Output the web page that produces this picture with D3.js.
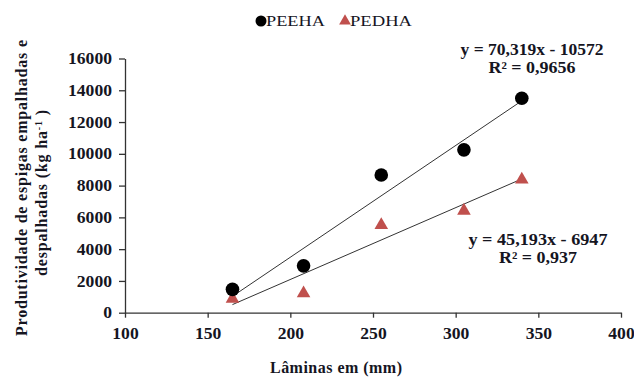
<!DOCTYPE html>
<html>
<head>
<meta charset="utf-8">
<script src="https://cdn.jsdelivr.net/npm/d3@7"></script>
<style>
  body { margin: 0; background: #fff; }
  svg text { font-family: "Liberation Serif", "Times New Roman", serif !important; font-weight: normal; fill: #15151f; }
  svg text.b { font-weight: bold; }
</style>
</head>
<body>
<script>
// data
var laminas = [165, 208, 255, 305, 340];
var peeha = [1470, 2950, 8670, 10250, 13500];
var pedha = [880, 1220, 5520, 6420, 8380];
var xTicks = [100, 150, 200, 250, 300, 350, 400];
var yTicks = [0, 2000, 4000, 6000, 8000, 10000, 12000, 14000, 16000];
// fitted lines shown on the chart
var fitPeeha = { a: 70.319, b: -10572, eq: "y = 70,319x - 10572", r2: "R² = 0,9656" };
var fitPedha = { a: 45.193, b: -6947, eq: "y = 45,193x - 6947", r2: "R² = 0,937" };

var width = 634, height = 378;
var margin = { left: 125, right: 13, top: 58.5, bottom: 65.3 };

var svg = d3.select("body").append("svg")
  .attr("width", width)
  .attr("height", height);

var x = d3.scaleLinear().domain([100, 400]).range([margin.left, width - margin.right]);
var y = d3.scaleLinear().domain([0, 16000]).range([height - margin.bottom, margin.top]);

// axes
var xAxis = svg.append("g")
  .attr("transform", "translate(0," + y(0) + ")")
  .call(d3.axisBottom(x).tickValues(xTicks).tickFormat(d3.format("d"))
    .tickSize(5).tickSizeOuter(0).tickPadding(10));
var yAxis = svg.append("g")
  .attr("transform", "translate(" + x(100) + ",0)")
  .call(d3.axisLeft(y).tickValues(yTicks).tickFormat(d3.format("d"))
    .tickSize(6).tickSizeOuter(0).tickPadding(7));

[xAxis, yAxis].forEach(function(a) {
  a.selectAll("path, line").attr("stroke", "#333").attr("stroke-width", 1.3);
  a.selectAll("text").attr("class", "b").style("font-size", "16px");
});
// tick labels in the picture are a little wider than the font
yAxis.selectAll("text").attr("textLength", function(d) { return String(d).length * 8.8; })
  .attr("lengthAdjust", "spacingAndGlyphs");
xAxis.selectAll("text").attr("textLength", function(d) { return String(d).length * 8.8; })
  .attr("lengthAdjust", "spacingAndGlyphs");

// trend lines
var xs = d3.extent(laminas);
[fitPeeha, fitPedha].forEach(function(f) {
  svg.append("line")
    .attr("x1", x(xs[0]))
    .attr("y1", y(f.a * xs[0] + f.b))
    .attr("x2", x(xs[1]))
    .attr("y2", y(f.a * xs[1] + f.b))
    .attr("stroke", "#333")
    .attr("stroke-width", 1);
});

// points
svg.selectAll(".tri")
  .data(laminas)
  .enter().append("path")
  .attr("class", "tri")
  .attr("d", d3.symbol().type(d3.symbolTriangle).size(80))
  .attr("transform", function(d, i) { return "translate(" + x(d) + "," + y(pedha[i]) + ")"; })
  .attr("fill", "#c0504d");

svg.selectAll(".dot")
  .data(laminas)
  .enter().append("circle")
  .attr("class", "dot")
  .attr("cx", function(d) { return x(d); })
  .attr("cy", function(d, i) { return y(peeha[i]); })
  .attr("r", 6.8)
  .attr("fill", "#000");

// equations
function eqText(f, cx, cy, w1, w2) {
  svg.append("text").attr("class", "b").attr("x", cx).attr("y", cy)
    .attr("text-anchor", "middle").style("font-size", "16px")
    .attr("textLength", w1).attr("lengthAdjust", "spacingAndGlyphs")
    .text(f.eq);
  svg.append("text").attr("class", "b").attr("x", cx).attr("y", cy + 18)
    .attr("text-anchor", "middle").style("font-size", "16px")
    .attr("textLength", w2).attr("lengthAdjust", "spacingAndGlyphs")
    .text(f.r2);
}
eqText(fitPeeha, 532, 55, 143, 87);
eqText(fitPedha, 538, 245, 139, 78);

// legend
var leg = svg.append("g").attr("transform", "translate(261,21)");
leg.append("circle").attr("cx", 0).attr("cy", 0).attr("r", 5.5).attr("fill", "#000");
leg.append("text").attr("x", 5).attr("y", 5).style("font-size", "15px")
  .attr("textLength", 59).attr("lengthAdjust", "spacingAndGlyphs").text("PEEHA");
leg.append("path")
  .attr("d", d3.symbol().type(d3.symbolTriangle).size(60))
  .attr("transform", "translate(84,0)")
  .attr("fill", "#c0504d");
leg.append("text").attr("x", 89).attr("y", 5).style("font-size", "15px")
  .attr("textLength", 62).attr("lengthAdjust", "spacingAndGlyphs").text("PEDHA");

// axis titles
svg.append("text").attr("class", "b")
  .attr("x", 336).attr("y", 373)
  .attr("text-anchor", "middle").style("font-size", "16px")
  .attr("textLength", 132).attr("lengthAdjust", "spacing")
  .text("Lâminas em (mm)");

svg.append("text").attr("class", "b")
  .attr("transform", "translate(27,188) rotate(-90)")
  .attr("text-anchor", "middle").style("font-size", "16px")
  .attr("textLength", 296).attr("lengthAdjust", "spacing")
  .text("Produtividade de espigas empalhadas e");
var t2 = svg.append("text").attr("class", "b")
  .attr("transform", "translate(47,193) rotate(-90)")
  .attr("text-anchor", "middle").style("font-size", "16px")
  .attr("textLength", 166).attr("lengthAdjust", "spacing");
t2.append("tspan").text("despalhadas (kg ha");
t2.append("tspan").attr("baseline-shift", "super").style("font-size", "10px").text("-1");
t2.append("tspan").text(" )");
</script>
</body>
</html>
